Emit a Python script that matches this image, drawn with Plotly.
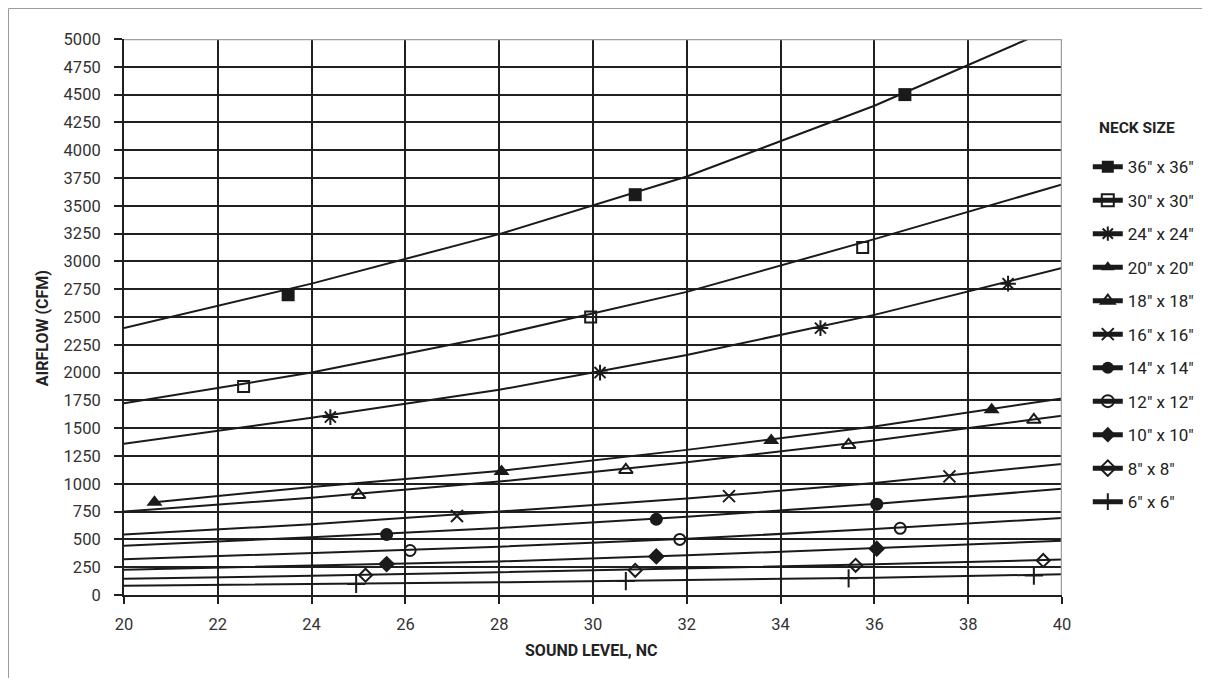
import plotly.graph_objects as go

FONT = "Roboto, Liberation Sans, Arial, sans-serif"
INK = "#1a1a1a"

# ---- data ----
neck_sizes = ['36" x 36"', '30" x 30"', '24" x 24"', '20" x 20"', '18" x 18"',
              '16" x 16"', '14" x 14"', '12" x 12"', '10" x 10"', '8" x 8"', '6" x 6"']

# measured points (sound level NC, airflow CFM)
x_36 = [23.5, 30.9, 36.65];          y_36 = [2700, 3600, 4500]
x_30 = [22.55, 29.95, 35.75];        y_30 = [1875, 2500, 3125]
x_24 = [24.4, 30.15, 34.85, 38.85];  y_24 = [1600, 2000, 2400, 2800]
x_20 = [20.65, 28.05, 33.8, 38.5];   y_20 = [833, 1111, 1389, 1667]
x_18 = [25.0, 30.7, 35.45, 39.4];    y_18 = [900, 1125, 1350, 1575]
x_16 = [27.1, 32.9, 37.6];           y_16 = [711, 889, 1067]
x_14 = [25.6, 31.35, 36.05];         y_14 = [544, 681, 817]
x_12 = [26.1, 31.85, 36.55];         y_12 = [400, 500, 600]
x_10 = [25.6, 31.35, 36.05];         y_10 = [278, 347, 417]
x_8 = [25.15, 30.9, 35.6, 39.6];     y_8 = [178, 222, 267, 311]
x_6 = [24.95, 30.7, 35.45, 39.4];    y_6 = [100, 125, 150, 175]

# trend lines
trend_x = [20, 24, 28, 32, 36, 40]
trend_x_20 = [20.65, 24, 28, 32, 36, 40]
trend_36 = [2400, 2800, 3245, 3764, 4400, 5133]
trend_30 = [1725, 2000, 2339, 2726, 3200, 3692]
trend_24 = [1359, 1595, 1845, 2159, 2519, 2940]
trend_20 = [835, 972, 1115, 1305, 1515, 1768]
trend_18 = [750, 875, 1020, 1194, 1389, 1612]
trend_16 = [543, 636, 750, 867, 1008, 1179]
trend_14 = [444, 519, 603, 704, 818, 955]
trend_12 = [321, 375, 435, 505, 594, 693]
trend_10 = [228, 262, 302, 357, 420, 487]
trend_8 = [147, 172, 205, 241, 276, 319]
trend_6 = [84, 97, 114, 136, 156, 186]

y_ticks = list(range(0, 5001, 250))
x_ticks = list(range(20, 41, 2))

series = [
    (neck_sizes[0], x_36, y_36, trend_x, trend_36, "square", 13, 0),
    (neck_sizes[1], x_30, y_30, trend_x, trend_30, "square-open", 11, 2),
    (neck_sizes[2], x_24, y_24, trend_x, trend_24, "asterisk-open", 13, 2),
    (neck_sizes[3], x_20, y_20, trend_x_20, trend_20, "triangle-up", 14, 0),
    (neck_sizes[4], x_18, y_18, trend_x, trend_18, "triangle-up-open", 12, 2),
    (neck_sizes[5], x_16, y_16, trend_x, trend_16, "x-thin-open", 12, 2),
    (neck_sizes[6], x_14, y_14, trend_x, trend_14, "circle", 13, 0),
    (neck_sizes[7], x_12, y_12, trend_x, trend_12, "circle-open", 11, 2),
    (neck_sizes[8], x_10, y_10, trend_x, trend_10, "diamond", 13, 0),
    (neck_sizes[9], x_8, y_8, trend_x, trend_8, "diamond-open", 10, 2),
    (neck_sizes[10], x_6, y_6, trend_x, trend_6, "cross-thin-open", 13, 2),
]

fig = go.Figure()
for i, (name, xs, ys, tx, ty, sym, size, lw) in enumerate(series):
    mk = dict(symbol=sym, size=size, color=INK, line=dict(color=INK, width=lw))
    fig.add_trace(go.Scatter(x=tx, y=ty, mode="lines", line=dict(color=INK, width=2),
                             showlegend=False, hoverinfo="skip", legendgroup=f"g{i}"))
    fig.add_trace(go.Scatter(x=xs, y=ys, mode="markers", marker=mk,
                             showlegend=False, name=name, legendgroup=f"g{i}"))
    fig.add_trace(go.Scatter(x=[None], y=[None], mode="lines+markers", name=name,
                             line=dict(color=INK, width=2), marker=mk,
                             legendgroup=f"g{i}", showlegend=True))

axis_common = dict(
    showgrid=True, gridcolor="#202020", gridwidth=2,
    showline=True, linecolor="#202020", linewidth=2,
    ticks="outside", tickcolor="#202020", tickwidth=2,
    zeroline=False,
    tickfont=dict(family=FONT, size=16.5, color="#333333"),
)
fig.update_xaxes(range=[20, 40], tickvals=x_ticks, ticklen=7, ticklabelstandoff=6, **axis_common)
fig.update_yaxes(range=[0, 5000], tickvals=y_ticks, ticklen=8, ticklabelstandoff=10, **axis_common)

fig.update_layout(
    width=1194, height=670,
    margin=dict(l=116, r=140, t=31, b=83, autoexpand=False),
    paper_bgcolor="white", plot_bgcolor="white",
    font=dict(family=FONT, color="#222222"),
    showlegend=True,
    legend=dict(
        x=1.0275, xanchor="left", y=0.802, yanchor="top",
        bgcolor="rgba(0,0,0,0)", borderwidth=0,
        font=dict(family=FONT, size=17, color="#222222"),
        tracegroupgap=8.4, itemsizing="constant",
    ),
    shapes=[
        dict(type="line", xref="x", yref="y", x0=20, x1=40, y0=5000, y1=5000,
             line=dict(color="#a0a0a0", width=2.5), layer="above"),
        dict(type="line", xref="x", yref="y", x0=40, x1=40, y0=0, y1=5000,
             line=dict(color="#a0a0a0", width=2.5), layer="above"),
        dict(type="line", xref="paper", yref="paper", x0=-0.1231, x1=1.2, y0=1.0549, y1=1.0549,
             line=dict(color="#9a9a9a", width=1)),
        dict(type="line", xref="paper", yref="paper", x0=-0.1231, x1=-0.1231, y0=-0.2, y1=1.0549,
             line=dict(color="#9a9a9a", width=1)),
    ],
    annotations=[
        dict(text="<b>AIRFLOW (CFM)</b>", xref="paper", yref="paper", x=-0.0874, y=0.48,
             textangle=-90, showarrow=False, xanchor="center", yanchor="middle",
             font=dict(family=FONT, size=16, color="#222222")),
        dict(text="<b>SOUND LEVEL, NC</b>", xref="paper", yref="paper", x=0.498, y=-0.1007,
             showarrow=False, xanchor="center", yanchor="middle",
             font=dict(family=FONT, size=16, color="#222222")),
        dict(text="<b>NECK SIZE</b>", xref="paper", yref="paper", x=1.08, y=0.840,
             showarrow=False, xanchor="center", yanchor="middle",
             font=dict(family=FONT, size=15.5, color="#222222")),
    ],
)

fig.write_html("out.html")
